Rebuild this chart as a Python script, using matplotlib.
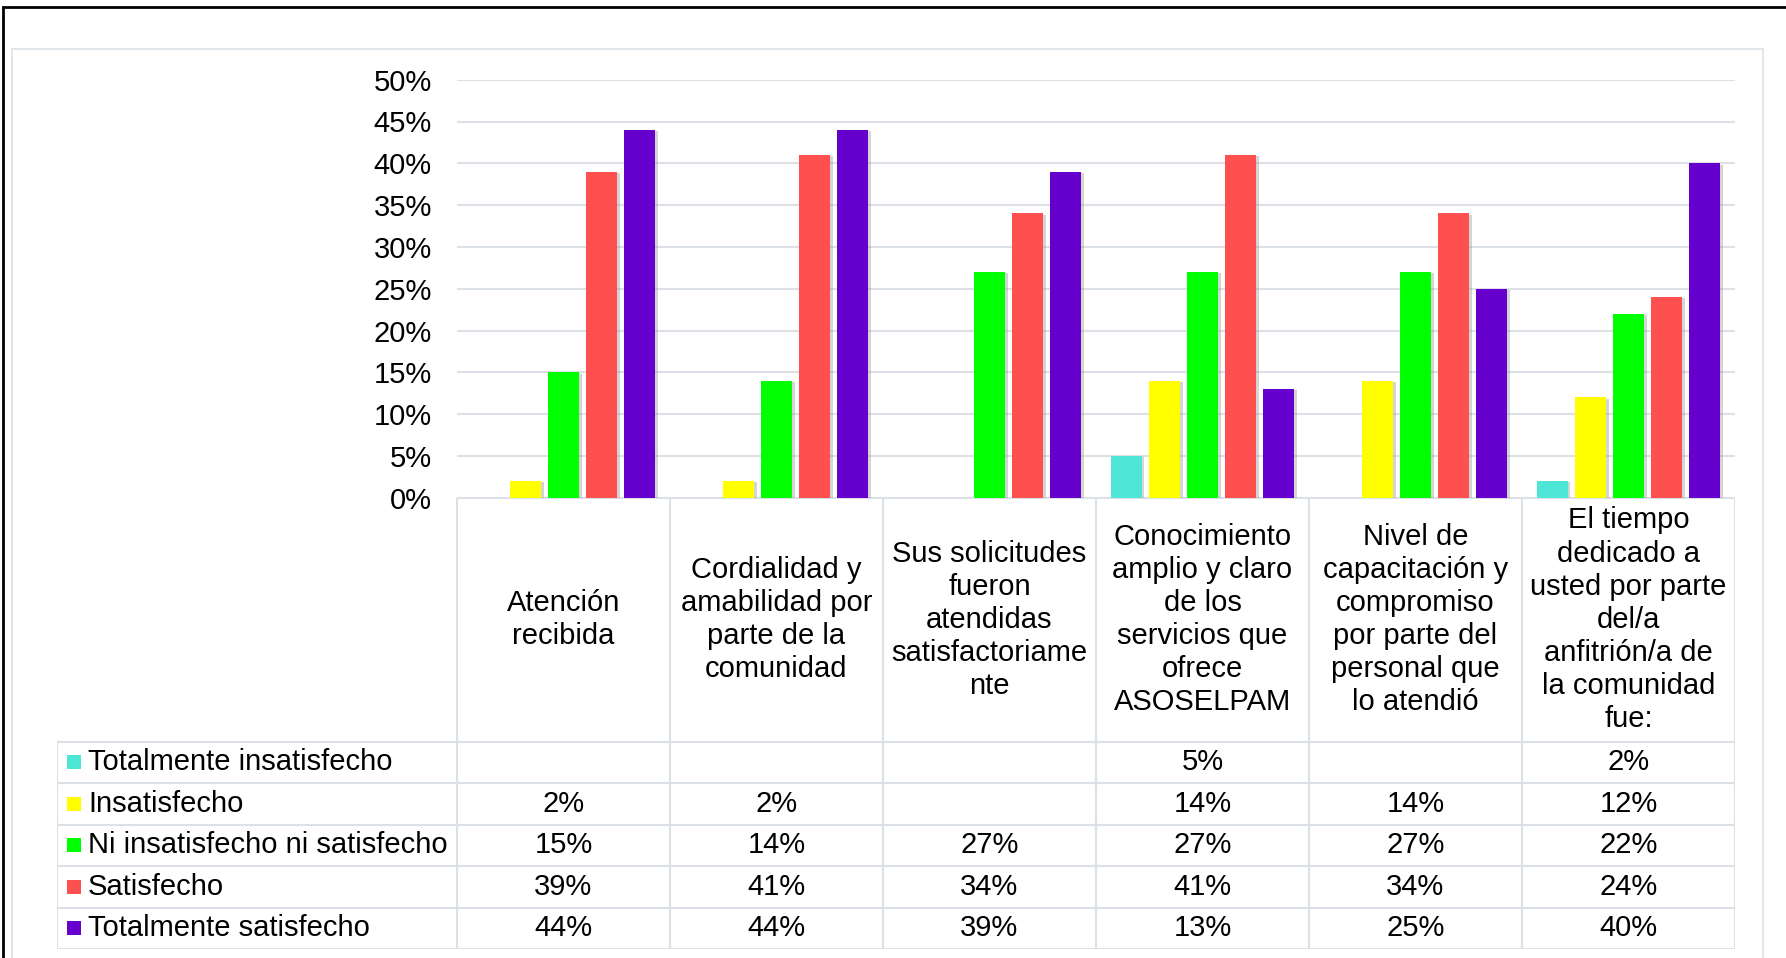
import numpy as np
import matplotlib.pyplot as plt
import matplotlib.patheffects as pe
from matplotlib.patches import Rectangle

plt.rcParams['font.family'] = ['Liberation Sans', 'DejaVu Sans']

# Data (percent, None = empty cell)
categorias = ["Atención\nrecibida",
              "Cordialidad y\namabilidad por\nparte de la\ncomunidad",
              "Sus solicitudes\nfueron\natendidas\nsatisfactoriame\nnte",
              "Conocimiento\namplio y claro\nde los\nservicios que\nofrece\nASOSELPAM",
              "Nivel de\ncapacitación y\ncompromiso\npor parte del\npersonal que\nlo atendió",
              "El tiempo\ndedicado a\nusted por parte\ndel/a\nanfitrión/a de\nla comunidad\nfue:"]
series = ["Totalmente insatisfecho", "Insatisfecho", "Ni insatisfecho ni satisfecho",
          "Satisfecho", "Totalmente satisfecho"]
tot_insat = [None, None, None, 5, None, 2]
insat = [2, 2, None, 14, 14, 12]
ni_ni = [15, 14, 27, 27, 27, 22]
satis = [39, 41, 34, 41, 34, 24]
tot_satis = [44, 44, 39, 13, 25, 40]
valores = [tot_insat, insat, ni_ni, satis, tot_satis]
colores = ["#4EE6D6", "#FFFF00", "#00FF00", "#FF5050", "#6600CC"]
yticks = [0, 5, 10, 15, 20, 25, 30, 35, 40, 45, 50]

W, H = 1786, 958
fig = plt.figure(figsize=(W/100, H/100), dpi=100)
fx = lambda p: p / W
fy = lambda p: 1 - p / H
grid_c = "#DCE1E8"
fs = 21

# outer frame + inner chart frame
fig.add_artist(Rectangle((fx(3), fy(H + 20)), 1.2, fy(7) - fy(H + 20), transform=fig.transFigure,
                         fill=False, ec="black", lw=2))
fig.add_artist(Rectangle((fx(11.5), fy(H + 20)), fx(1763) - fx(11.5), fy(49) - fy(H + 20),
                         transform=fig.transFigure, fill=False, ec=grid_c, lw=1.2))

# bar area
ax = fig.add_axes([fx(457), fy(497.7), fx(1735) - fx(457), fy(79.7) - fy(497.7)])
x = np.arange(len(categorias))
step, bw = 0.179, 0.145
shadow = [pe.SimplePatchShadow(offset=(2, -1), shadow_rgbFace="#888888", alpha=0.35), pe.Normal()]
for i, (vals, col) in enumerate(zip(valores, colores)):
    h = [np.nan if v is None else v / 100 for v in vals]
    bars = ax.bar(x + (i - 2) * step, h, width=bw, color=col, zorder=3)
    for b in bars:
        b.set_path_effects(shadow)
ax.set_xlim(-0.5, len(categorias) - 0.5)
ax.set_ylim(0, 0.5)
ax.set_yticks([t / 100 for t in yticks])
ax.set_yticklabels(["%d%%" % t for t in yticks], fontsize=fs)
ax.tick_params(axis="y", length=0, pad=18)
ax.set_xticks([])
ax.grid(axis="y", color=grid_c, lw=1.5, zorder=0)
for s in ax.spines.values():
    s.set_visible(False)

# data table under the bars
head_h, row_h = 243.8, 41.45
left = -0.5 - (457 - 57) / 213
bottom = head_h + row_h * len(series)
tb = fig.add_axes([fx(57), fy(949), fx(1735) - fx(57), fy(497.7) - fy(949)])
tb.set_xlim(left, len(categorias) - 0.5)
tb.set_ylim(bottom, 0)
tb.axis("off")

tb.plot([-0.5, len(categorias) - 0.5], [0, 0], color=grid_c, lw=1.5)
for r in range(len(series) + 1):
    yy = head_h + r * row_h
    tb.plot([left, len(categorias) - 0.5], [yy, yy], color=grid_c, lw=1.5)
for c in range(len(categorias) + 1):
    tb.plot([c - 0.5, c - 0.5], [0, bottom], color=grid_c, lw=1.5)
tb.plot([left, left], [head_h, bottom], color=grid_c, lw=1.5)

for c, lab in enumerate(categorias):
    tb.text(c, head_h / 2, lab, ha="center", va="center", fontsize=fs, linespacing=1.23)

for r, (name, vals, col) in enumerate(zip(series, valores, colores)):
    yc = head_h + (r + 0.5) * row_h
    tb.add_patch(Rectangle((left + 10 / 213, yc - 7), 14 / 213, 14, color=col, lw=0))
    tb.text(left + 31 / 213, yc, name, ha="left", va="center", fontsize=fs)
    for c, v in enumerate(vals):
        if v is not None:
            tb.text(c, yc, "%d%%" % v, ha="center", va="center", fontsize=fs)

fig.savefig("out.png", dpi=100)
